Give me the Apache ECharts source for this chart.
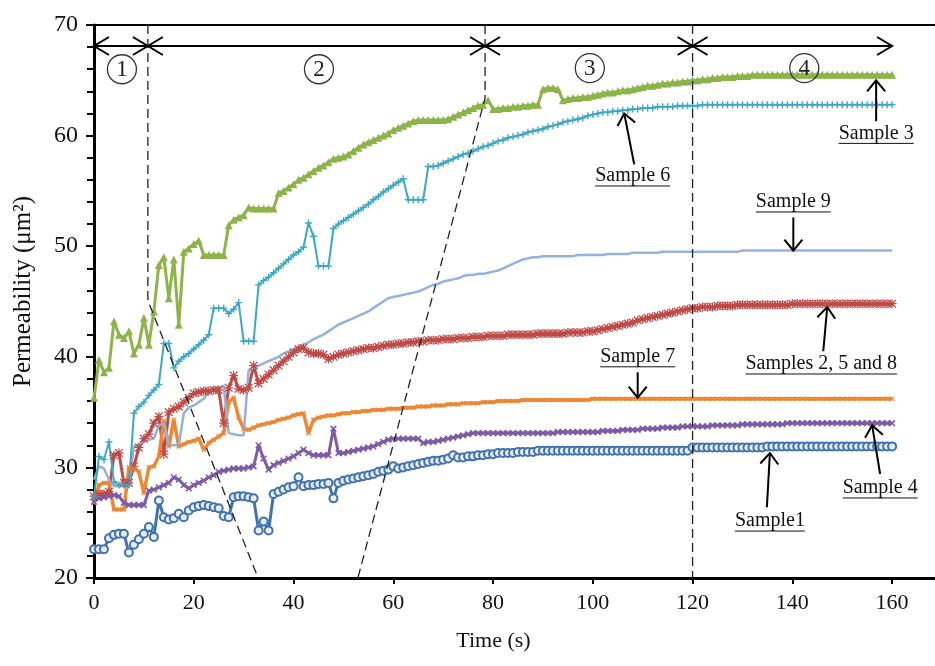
<!DOCTYPE html>
<html><head><meta charset="utf-8">
<script src="https://cdn.jsdelivr.net/npm/echarts@6/dist/echarts.min.js"></script>
<style>html,body{margin:0;padding:0;background:#fff}#chart{width:935px;height:666px}</style>
</head><body><div id="chart"></div>
<script>
// ---------- data ----------
const time = Array.from({length:161}, (_, i) => i); // 1 s sampling, 0..160 s
const xTicks = [0,20,40,60,80,100,120,140,160];

const sample1 = [22.6,22.6,22.6,23.6,23.9,24.0,24.0,22.3,23.0,23.5,
 24.0,24.6,23.7,27.0,25.5,25.3,25.4,25.8,25.5,26.1,
 26.4,26.5,26.6,26.5,26.4,26.3,25.6,25.5,27.3,27.4,
 27.4,27.3,27.2,24.3,25.1,24.3,27.6,27.8,28.0,28.2,
 28.3,29.1,28.3,28.4,28.4,28.5,28.5,28.6,27.2,28.6,
 28.8,28.9,29.0,29.1,29.2,29.3,29.4,29.6,29.7,29.8,
 30.1,29.9,30.0,30.1,30.2,30.3,30.4,30.5,30.6,30.6,
 30.7,30.8,31.1,30.9,30.9,31.0,31.0,31.1,31.1,31.2,
 31.2,31.3,31.3,31.3,31.3,31.4,31.4,31.4,31.4,31.5,
 31.5,31.5,31.5,31.5,31.5,31.5,31.5,31.5,31.5,31.5,
 31.5,31.5,31.5,31.5,31.5,31.5,31.5,31.5,31.5,31.5,
 31.5,31.5,31.5,31.5,31.5,31.5,31.5,31.5,31.5,31.5,
 31.8,31.8,31.8,31.8,31.8,31.8,31.8,31.8,31.8,31.8,
 31.8,31.8,31.8,31.8,31.8,31.9,31.9,31.9,31.9,31.9,
 31.9,31.9,31.9,31.9,31.9,31.9,31.9,31.9,31.9,31.9,
 31.9,31.9,31.9,31.9,31.9,31.9,31.9,31.9,31.9,31.9,31.9];

const sample4 = [26.9,27.2,27.3,27.4,27.5,27.4,26.8,26.6,26.6,26.6,
 26.6,27.9,28.0,28.2,28.4,28.6,29.1,28.9,28.4,28.1,
 28.4,28.6,28.8,29.1,29.3,29.6,29.7,29.8,29.9,29.9,
 29.9,30.0,30.1,32.0,30.8,29.8,30.2,30.4,30.6,30.8,
 31.0,31.3,31.6,31.3,31.1,31.1,31.1,31.1,33.5,31.3,
 31.3,31.4,31.5,31.6,31.7,31.8,31.9,32.1,32.3,32.5,
 32.6,32.6,32.6,32.6,32.6,32.6,32.2,32.3,32.3,32.4,
 32.5,32.6,32.7,32.8,32.9,33.0,33.1,33.1,33.1,33.1,
 33.1,33.1,33.1,33.1,33.1,33.1,33.1,33.1,33.1,33.1,
 33.1,33.1,33.1,33.2,33.2,33.2,33.2,33.2,33.2,33.2,
 33.2,33.2,33.3,33.3,33.3,33.3,33.4,33.4,33.4,33.4,
 33.5,33.5,33.5,33.5,33.6,33.6,33.6,33.6,33.7,33.7,
 33.7,33.7,33.7,33.7,33.8,33.8,33.8,33.8,33.8,33.8,
 33.9,33.9,33.9,33.9,33.9,33.9,33.9,33.9,33.9,34.0,
 34.0,34.0,34.0,34.0,34.0,34.0,34.0,34.0,34.0,34.0,
 34.0,34.0,34.0,34.0,34.0,34.0,34.0,34.0,34.0,34.0,34.0];

const sample7 = [26.8,28.4,28.6,28.6,26.2,26.2,26.2,30.0,29.9,29.6,
 27.7,30.0,30.1,31.0,34.2,31.9,34.3,31.9,32.1,32.3,
 32.4,32.6,31.6,32.2,32.5,32.8,33.1,35.9,36.3,34.5,
 33.5,33.4,33.6,33.8,33.9,34.0,34.1,34.3,34.4,34.5,
 34.7,34.8,34.9,33.1,34.3,34.5,34.6,34.7,34.7,34.8,
 34.9,34.9,35.0,35.0,35.1,35.1,35.2,35.2,35.2,35.3,
 35.3,35.3,35.4,35.4,35.4,35.5,35.5,35.5,35.6,35.6,
 35.6,35.7,35.7,35.7,35.8,35.8,35.8,35.8,35.9,35.9,
 35.9,36.0,36.0,36.0,36.0,36.0,36.1,36.1,36.1,36.1,
 36.1,36.1,36.1,36.1,36.1,36.1,36.1,36.1,36.1,36.1,
 36.2,36.2,36.2,36.2,36.2,36.2,36.2,36.2,36.2,36.2,
 36.2,36.2,36.2,36.2,36.2,36.2,36.2,36.2,36.2,36.2,
 36.2,36.2,36.2,36.2,36.2,36.2,36.2,36.2,36.2,36.2,
 36.2,36.2,36.2,36.2,36.2,36.2,36.2,36.2,36.2,36.2,
 36.2,36.2,36.2,36.2,36.2,36.2,36.2,36.2,36.2,36.2,
 36.2,36.2,36.2,36.2,36.2,36.2,36.2,36.2,36.2,36.2,36.2];

const sample258 = [27.4,27.6,27.6,27.8,31.1,31.3,28.6,28.6,30.1,31.8,
 32.6,33.0,34.0,34.6,31.2,35.0,35.3,35.5,35.9,36.3,
 36.7,36.8,36.9,36.9,37.0,37.0,34.0,37.2,38.3,37.1,
 37.0,37.2,39.2,37.6,38.0,38.4,38.8,39.2,39.6,40.0,
 40.4,40.7,40.8,40.4,40.3,40.3,40.2,39.8,40.0,40.2,
 40.3,40.4,40.5,40.6,40.7,40.8,40.8,40.9,41.0,41.1,
 41.1,41.2,41.2,41.3,41.3,41.4,41.4,41.5,41.5,41.5,
 41.6,41.6,41.6,41.7,41.7,41.7,41.8,41.8,41.8,41.9,
 41.9,41.9,41.9,42.0,42.0,42.0,42.0,42.0,42.0,42.1,
 42.1,42.1,42.1,42.1,42.1,42.2,42.2,42.2,42.2,42.3,
 42.3,42.4,42.5,42.6,42.7,42.8,42.9,43.0,43.1,43.3,
 43.4,43.5,43.6,43.7,43.8,43.9,44.0,44.1,44.2,44.3,
 44.4,44.4,44.5,44.5,44.5,44.6,44.6,44.6,44.6,44.7,
 44.7,44.7,44.7,44.7,44.7,44.7,44.7,44.7,44.7,44.7,
 44.8,44.8,44.8,44.8,44.8,44.8,44.8,44.8,44.8,44.8,
 44.8,44.8,44.8,44.8,44.8,44.8,44.8,44.8,44.8,44.8,44.8];

const sample9 = [28.9,30.1,29.9,28.9,28.3,28.3,28.3,28.3,31.9,32.1,
 32.3,32.5,32.6,33.8,34.0,32.0,32.0,32.0,34.9,35.4,
 35.6,35.9,36.2,36.8,37.0,37.2,37.4,33.1,33.0,32.9,
 32.9,38.8,39.0,39.2,39.4,39.6,39.8,40.0,40.3,40.5,
 40.7,40.9,41.1,41.3,41.6,41.8,42.0,42.3,42.6,42.9,
 43.1,43.3,43.5,43.7,43.9,44.1,44.4,44.7,45.0,45.3,
 45.4,45.5,45.6,45.7,45.8,45.9,46.1,46.3,46.5,46.6,
 46.8,46.9,47.0,47.1,47.3,47.4,47.4,47.5,47.5,47.6,
 47.7,47.8,48.0,48.2,48.4,48.6,48.8,48.9,49.0,49.0,
 49.1,49.1,49.1,49.1,49.1,49.1,49.1,49.2,49.2,49.2,
 49.2,49.2,49.2,49.3,49.3,49.3,49.3,49.3,49.4,49.4,
 49.4,49.4,49.4,49.4,49.5,49.5,49.5,49.5,49.5,49.5,
 49.5,49.5,49.5,49.5,49.5,49.5,49.5,49.5,49.5,49.5,
 49.6,49.6,49.6,49.6,49.6,49.6,49.6,49.6,49.6,49.6,
 49.6,49.6,49.6,49.6,49.6,49.6,49.6,49.6,49.6,49.6,
 49.6,49.6,49.6,49.6,49.6,49.6,49.6,49.6,49.6,49.6,49.6];

const sample6 = [27.4,31.0,30.7,32.3,28.7,28.4,28.4,28.4,34.9,35.5,
 35.9,36.5,37.0,37.5,41.2,41.2,39.0,39.6,40.0,40.3,
 40.7,41.1,41.5,42.0,44.4,44.4,44.4,43.9,44.3,44.9,
 41.4,41.4,41.4,46.5,46.9,47.2,47.6,48.0,48.4,48.8,
 49.2,49.5,49.9,52.1,50.9,48.2,48.2,48.2,51.6,52.0,
 52.3,52.6,52.9,53.2,53.5,53.8,54.2,54.5,54.9,55.2,
 55.5,55.8,56.1,54.2,54.2,54.2,54.2,57.2,57.2,57.3,
 57.5,57.7,57.9,58.1,58.3,58.4,58.6,58.8,59.0,59.1,
 59.3,59.5,59.6,59.8,59.9,60.0,60.1,60.3,60.4,60.5,
 60.6,60.8,60.9,61.0,61.2,61.3,61.4,61.5,61.6,61.8,
 61.9,62.0,62.1,62.1,62.2,62.2,62.3,62.3,62.4,62.4,
 62.5,62.5,62.5,62.6,62.6,62.6,62.6,62.7,62.7,62.7,
 62.7,62.7,62.8,62.8,62.8,62.8,62.8,62.8,62.8,62.8,
 62.8,62.8,62.8,62.8,62.8,62.8,62.8,62.8,62.8,62.8,
 62.8,62.8,62.8,62.8,62.8,62.8,62.8,62.8,62.8,62.8,
 62.8,62.8,62.8,62.8,62.8,62.8,62.8,62.8,62.8,62.8,62.8];

const sample3 = [36.3,39.7,38.6,39.0,43.2,42.0,41.7,42.3,40.3,41.1,
 43.5,41.1,44.1,48.3,49.0,45.3,48.8,42.9,49.5,49.8,
 50.2,50.5,49.2,49.2,49.2,49.2,49.2,51.9,52.4,52.6,
 52.8,53.5,53.4,53.4,53.4,53.4,53.4,54.8,55.0,55.3,
 55.6,56.0,56.2,56.5,56.8,57.1,57.3,57.6,57.9,58.0,
 58.1,58.3,58.6,58.9,59.2,59.4,59.6,59.8,60.0,60.2,
 60.5,60.7,60.9,61.1,61.3,61.4,61.4,61.4,61.4,61.4,
 61.4,61.5,61.7,61.9,62.1,62.3,62.5,62.7,62.8,63.2,
 62.4,62.4,62.5,62.5,62.6,62.6,62.7,62.7,62.8,62.8,
 64.2,64.3,64.3,64.2,63.2,63.3,63.4,63.4,63.5,63.5,
 63.6,63.7,63.8,63.9,63.9,64.0,64.1,64.1,64.2,64.3,
 64.4,64.5,64.5,64.6,64.7,64.7,64.8,64.8,64.9,64.9,
 65.0,65.0,65.1,65.1,65.2,65.2,65.3,65.3,65.3,65.4,
 65.4,65.4,65.5,65.5,65.5,65.5,65.5,65.5,65.5,65.5,
 65.5,65.5,65.5,65.5,65.5,65.5,65.5,65.5,65.5,65.5,
 65.5,65.5,65.5,65.5,65.5,65.5,65.5,65.5,65.5,65.5,65.5];

// annotations (data coordinates)
const phaseSpans = [[0,10.8],[10.8,78.4],[78.4,120],[120,160]];
const phaseArrowLevel = 68.1;
const phaseNames = ['1','2','3','4'];
const phaseLabelAt = [[5.6,66.0],[45.1,66.0],[99.4,66.1],[142.4,66.1]];
const dashedPaths = [
  [[10.8,70],[10.8,45.1],[32.9,20]],
  [[78.4,70],[78.4,63.4],[52.9,20]],
  [[120,70],[120,20]]
];
const noteText = ['Sample 3','Sample 6','Sample 9','Samples 2, 5 and 8','Sample 7','Sample 4','Sample1'];
const noteLabelAt = [[156.8,60.2],[108.0,56.35],[140.2,54.0],[145.8,39.35],[109.0,40.0],[157.6,28.14],[135.5,25.15]];
const noteArrowFrom = [[156.8,61.3],[108.3,57.4],[140.2,52.6],[146.2,40.5],[109.0,38.6],[157.6,29.4],[134.9,26.4]];
const noteArrowTo = [[156.8,65.0],[106.3,62.0],[140.2,49.6],[147.0,44.5],[109.0,36.3],[156.0,33.8],[135.5,31.3]];

// ---------- rendering ----------
const SERIF = "'Liberation Serif','Times New Roman',serif";
const NOTE_FONT = "20px " + SERIF;
const mctx = document.createElement('canvas').getContext('2d');
function measure(t){ mctx.font = NOTE_FONT; return mctx.measureText(t).width; }
function chevron(tip, dir, depth, half){
  const nx = -dir[1], ny = dir[0];
  const bx = tip[0] - dir[0]*depth, by = tip[1] - dir[1]*depth;
  return [[bx + nx*half, by + ny*half], [tip[0], tip[1]], [bx - nx*half, by - ny*half]];
}
const PLUS = 'path://M4,0H6V4H10V6H6V10H4V6H0V4H4Z';
const STAR = 'path://M4.3,0H5.7V4.3H10V5.7H5.7V10H4.3V5.7H0V4.3H4.3Z M1.2,0.2L5,4L8.8,0.2L9.8,1.2L6,5L9.8,8.8L8.8,9.8L5,6L1.2,9.8L0.2,8.8L4,5L0.2,1.2Z';

function pairs(arr){ return time.map((t, i) => [t, arr[i]]); }
function lineSeries(name, arr, color, width, symbol, size, extra){
  return Object.assign({
    name, type:'line', data: pairs(arr), showSymbol: symbol !== 'none', showAllSymbol: true, symbol, symbolSize: size,
    lineStyle:{color, width}, itemStyle:{color}, animation:false, silent:true, z:3
  }, extra || {});
}

const chart = echarts.init(document.getElementById('chart'), null, {renderer:'canvas'});
chart.setOption({
  animation:false,
  backgroundColor:'#fff',
  grid:{left:94, right:0, top:25, bottom:88, containLabel:false},
  xAxis:[{
    type:'value', min:0, max:168.6, interval:20, position:'bottom',
    axisLine:{show:true, onZero:false, lineStyle:{color:'#000', width:3}},
    axisTick:{show:true, inside:false, length:6, customValues:xTicks, lineStyle:{color:'#000', width:2}},
    axisLabel:{customValues:xTicks, fontFamily:SERIF, fontSize:22, color:'#111', margin:14},
    splitLine:{show:false},
    name:'Time (s)', nameLocation:'middle', nameGap:52,
    nameTextStyle:{fontFamily:SERIF, fontSize:22, color:'#111', padding:[0,42,0,0]}
  },{
    type:'value', min:0, max:168.6, position:'top',
    axisLine:{show:true, onZero:false, lineStyle:{color:'#000', width:2}},
    axisTick:{show:false}, axisLabel:{show:false}, splitLine:{show:false}
  }],
  yAxis:{
    type:'value', min:20, max:70, interval:10,
    axisLine:{show:true, onZero:false, lineStyle:{color:'#000', width:3}},
    axisTick:{show:true, inside:false, length:8, lineStyle:{color:'#000', width:2}},
    minorTick:{show:true, splitNumber:5, length:7, lineStyle:{color:'#000', width:2}},
    axisLabel:{fontFamily:SERIF, fontSize:24, color:'#111', margin:16},
    splitLine:{show:false},
    name:'Permeability (μm²)', nameLocation:'middle', nameGap:58, nameRotate:90,
    nameTextStyle:{fontFamily:SERIF, fontSize:25, color:'#111', padding:[0,0,0,20]}
  },
  series:[
    lineSeries('Samples 2, 5 and 8', sample258, '#BE4B48', 3, STAR, 9),
    lineSeries('Sample 7', sample7, '#EC8734', 3.5, PLUS, 6, {symbolRotate:45}),
    lineSeries('Sample 4', sample4, '#7D5BA6', 3, PLUS, 8, {symbolRotate:45}),
    lineSeries('Sample1', sample1, '#3F72AF', 3, 'circle', 8, {itemStyle:{color:'#E6EDF7', borderColor:'#3F72AF', borderWidth:2}}),
    lineSeries('Sample 9', sample9, '#94B2DC', 2.5, 'none', 0),
    lineSeries('Sample 6', sample6, '#3DA8C3', 2, PLUS, 7),
    lineSeries('Sample 3', sample3, '#8DB44A', 3, 'triangle', 8),
    {
      type:'custom', coordinateSystem:'cartesian2d', clip:false, silent:true, z:10, animation:false,
      data: dashedPaths.map(p => p[0]), encode:{x:0, y:1},
      renderItem(params, api){
        const pts = dashedPaths[params.dataIndex].map(p => api.coord(p));
        return {type:'polyline', shape:{points:pts}, style:{stroke:'#222', lineWidth:1.3, fill:null, lineDash:[9,5]}};
      }
    },
    {
      type:'custom', coordinateSystem:'cartesian2d', clip:false, silent:true, z:11, animation:false,
      data: phaseSpans.map(s => [s[0], phaseArrowLevel, s[1]]), encode:{x:[0,2], y:1},
      renderItem(params, api){
        const a = api.coord([api.value(0), api.value(1)]);
        const b = api.coord([api.value(2), api.value(1)]);
        const st = {stroke:'#000', lineWidth:2, fill:null};
        return {type:'group', children:[
          {type:'line', shape:{x1:a[0], y1:a[1], x2:b[0], y2:b[1]}, style:st},
          {type:'polyline', shape:{points:chevron(a, [-1,0], 15, 9)}, style:st},
          {type:'polyline', shape:{points:chevron(b, [1,0], 15, 9)}, style:st}
        ]};
      }
    },
    {
      type:'custom', coordinateSystem:'cartesian2d', clip:false, silent:true, z:11, animation:false,
      data: phaseLabelAt, encode:{x:0, y:1},
      renderItem(params, api){
        const c = api.coord([api.value(0), api.value(1)]);
        return {type:'group', children:[
          {type:'circle', shape:{cx:c[0], cy:c[1], r:14.5}, style:{fill:null, stroke:'#333', lineWidth:1.3}},
          {type:'text', style:{text:phaseNames[params.dataIndex], x:c[0], y:c[1]+1, align:'center', verticalAlign:'middle',
            textAlign:'center', textVerticalAlign:'middle', font:'23px ' + SERIF, fill:'#222'}}
        ]};
      }
    },
    {
      type:'custom', coordinateSystem:'cartesian2d', clip:false, silent:true, z:12, animation:false,
      data: noteLabelAt, encode:{x:0, y:1},
      renderItem(params, api){
        const i = params.dataIndex;
        const c = api.coord(noteLabelAt[i]);
        const a = api.coord(noteArrowFrom[i]);
        const b = api.coord(noteArrowTo[i]);
        const w = measure(noteText[i]);
        const dx = b[0]-a[0], dy = b[1]-a[1], L = Math.hypot(dx, dy);
        const dir = [dx/L, dy/L];
        const st = {stroke:'#000', lineWidth:2, fill:null};
        return {type:'group', children:[
          {type:'text', style:{text:noteText[i], x:c[0], y:c[1], align:'center', verticalAlign:'middle',
            textAlign:'center', textVerticalAlign:'middle', font:NOTE_FONT, fill:'#111'}},
          {type:'line', shape:{x1:c[0]-w/2, y1:c[1]+10, x2:c[0]+w/2, y2:c[1]+10}, style:{stroke:'#111', lineWidth:1}},
          {type:'line', shape:{x1:a[0], y1:a[1], x2:b[0], y2:b[1]}, style:st},
          {type:'polyline', shape:{points:chevron(b, dir, 11, 9)}, style:st}
        ]};
      }
    }
  ]
});
</script>
</body></html>
